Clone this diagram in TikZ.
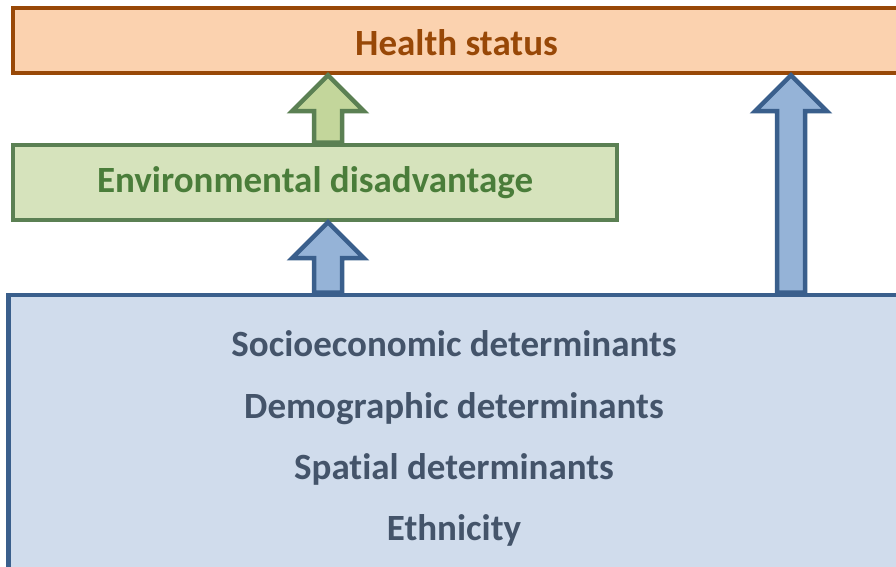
\documentclass[tikz,border=0pt]{standalone}
\usepackage{fontspec}
\setmainfont{Carlito}[RawFeature=-liga]
\usetikzlibrary{calc}

\definecolor{healthfill}{RGB}{251,210,175}
\definecolor{healthline}{RGB}{152,72,7}
\definecolor{envfill}{RGB}{214,227,188}
\definecolor{envline}{RGB}{91,128,83}
\definecolor{envtext}{RGB}{74,125,58}
\definecolor{envarrow}{RGB}{195,214,155}
\definecolor{basefill}{RGB}{208,220,236}
\definecolor{baseline}{RGB}{58,95,140}
\definecolor{basetext}{RGB}{68,84,106}
\definecolor{basearrow}{RGB}{149,179,215}

\tikzset{
  box/.style={draw, line width=4.5pt, inner sep=0pt, font=\fontsize{37}{44}\selectfont\bfseries},
  detail/.style={anchor=base, text=basetext, font=\fontsize{37}{44}\selectfont\bfseries},
  fat/.style={line width=4.5pt, line join=miter},
}

% block arrow going up from #2 to #3
\newcommand\blockarrow[3]{%
  \draw[fat,#1] let \p1=(#2), \p2=(#3) in
    (\x1-14pt,\y1) -- (\x1-14pt,\y2-36pt) -- (\x1-36pt,\y2-36pt) -- (\x1,\y2)
    -- (\x1+36pt,\y2-36pt) -- (\x1+14pt,\y2-36pt) -- (\x1+14pt,\y1) -- cycle;}

\begin{document}
\begin{tikzpicture}[x=1pt,y=1pt]
  \useasboundingbox (0,0) rectangle (896,567);
  \clip (0,0) rectangle (896,567);

  \node[box, fill=healthfill, draw=healthline, text=healthline,
        text height=31pt, text depth=0pt,
        minimum width=887pt, minimum height=65pt] (health) at (456.5,526.5)
        {Health status};
  \node[box, fill=envfill, draw=envline, text=envtext,
        minimum width=604pt, minimum height=75pt] (env) at (315,384.5)
        {Environmental disadvantage};
  \node[box, fill=basefill, draw=baseline,
        minimum width=892pt, minimum height=282pt] (base) at (454.25,131) {};

  \foreach \txt [count=\i] in {Socioeconomic determinants, Demographic determinants,
                               Spatial determinants, Ethnicity}
    \node[detail] (det\i) at (454,210-61.3*\i+61.3) {\txt};

  % columns of the arrows
  \coordinate (leftcol) at (328,0);
  \coordinate (rightcol) at (791,0);

  \blockarrow{fill=envarrow, draw=envline}{leftcol |- env.north}{leftcol |- health.south}
  \blockarrow{fill=basearrow, draw=baseline}{leftcol |- base.north}{leftcol |- env.south}
  \blockarrow{fill=basearrow, draw=baseline}{rightcol |- base.north}{rightcol |- health.south}
\end{tikzpicture}
\end{document}
